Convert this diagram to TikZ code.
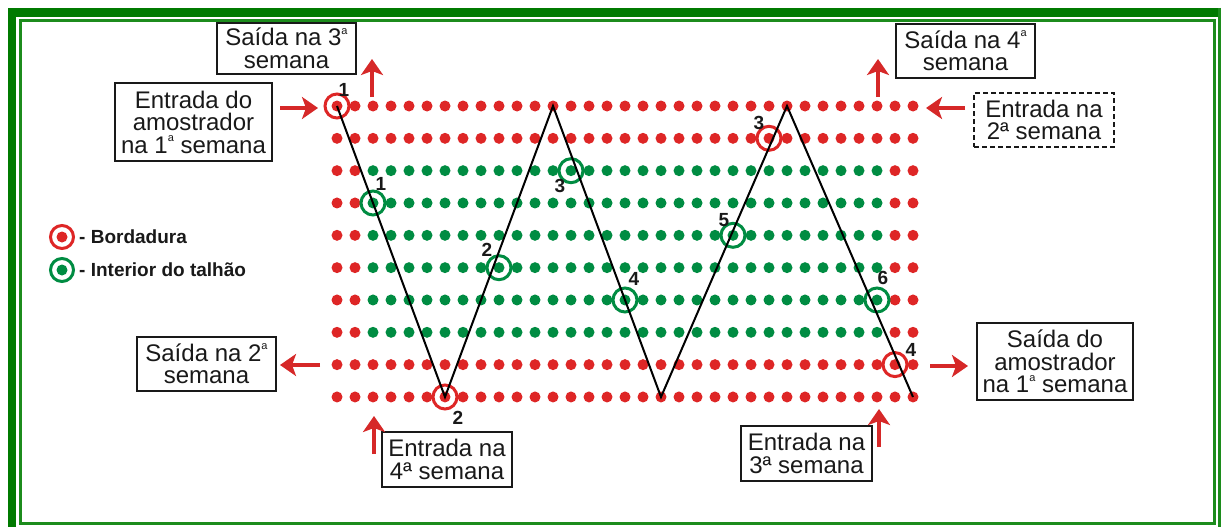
\documentclass[tikz,border=0pt]{standalone}
\usepackage{fontspec}
\setmainfont{Liberation Sans}
\usetikzlibrary{arrows.meta}
\definecolor{dotred}{RGB}{222,38,38}
\definecolor{dotgreen}{RGB}{0,140,66}
\definecolor{framegreen}{RGB}{0,122,0}
\definecolor{linegreen}{RGB}{28,140,28}
\definecolor{arrowred}{RGB}{214,40,40}
\definecolor{textdark}{RGB}{25,25,25}
\newcommand{\supa}{\raisebox{0.48em}{\fontsize{11}{11}\selectfont a}}
\begin{document}
\begin{tikzpicture}[x=1pt,y=-1pt,
  box/.style={draw=textdark, line width=1.8pt, fill=white, align=center, inner sep=0pt,
    font=\fontsize{24}{22.5}\selectfont, text=textdark},
  dbox/.style={box, dash pattern=on 5pt off 3pt},
  ring/.style={circle, draw=#1, line width=3pt, minimum size=24pt, inner sep=0pt},
  num/.style={font=\bfseries\fontsize{19}{19}\selectfont, text=textdark, inner sep=0pt},
  legtext/.style={font=\bfseries\fontsize{19}{19}\selectfont, text=textdark, inner sep=0pt, anchor=west},
  pointer/.style={draw=arrowred, line width=3.5pt, -{Stealth[length=16pt,width=22pt,inset=4pt]}},
  zig/.style={draw=black, line width=2pt, line join=miter},
]
\useasboundingbox (0,0) rectangle (1221,527);
% frame
\fill[white] (0,0) rectangle (1221,527);
\draw[framegreen, line width=8.5pt] (12,540) -- (12,12.5) -- (1219,12.5);
\draw[linegreen, line width=3pt] (1219.5,8) -- (1219.5,530);
\draw[linegreen, line width=2.8pt] (20.5,20.5) rectangle (1214.5,523.5);

% dots
\foreach \r in {0,...,9}{
  \foreach \c in {0,...,32}{
    \def\dc{dotred}
    \ifnum\r>1 \ifnum\r<8 \ifnum\c>1 \ifnum\c<31 \def\dc{dotgreen}\fi\fi\fi\fi
    \fill[\dc] ({337+18*\c},{106+32.33*\r}) circle[radius=5.5pt];
  }
}

% rings
\node[ring=dotred]   (r1) at (337,106) {};
\node[ring=dotgreen] (g1) at (373,203) {};
\node[ring=dotred]   (r2) at (445,397) {};
\node[ring=dotgreen] (g2) at (499,267.7) {};
\node[ring=dotgreen] (g3) at (571,170.7) {};
\node[ring=dotgreen] (g4) at (625,300) {};
\node[ring=dotred]   (r3) at (769,138.3) {};
\node[ring=dotgreen] (g5) at (733,235.3) {};
\node[ring=dotgreen] (g6) at (877,300) {};
\node[ring=dotred]   (r4) at (895,364.6) {};

% ring numbers
\node[num] (nr1) at (344,90) {1};
\node[num] (ng1) at (381,184) {1};
\node[num] (nr2) at (458,418) {2};
\node[num] (ng2) at (487,250) {2};
\node[num] (ng3) at (560,186) {3};
\node[num] (ng4) at (634,279) {4};
\node[num] (nr3) at (759,123) {3};
\node[num] (ng5) at (724,220) {5};
\node[num] (ng6) at (883,278) {6};
\node[num] (nr4) at (911,350) {4};

% zigzag path
\coordinate (z0) at (337,106);
\coordinate (z1) at (445,397);
\coordinate (z2) at (553,106);
\coordinate (z3) at (661,397);
\coordinate (z4) at (787,106);
\coordinate (z5) at (913,397);
\draw[zig] (z0) -- (z1) -- (z2) -- (z3) -- (z4) -- (z5);

% boxes
\node[box, minimum width=139pt, minimum height=51pt] (b1) at (286.5,48.5) {Saída na 3\supa\\semana};
\node[box, minimum width=157pt, minimum height=78pt] (b2) at (193.5,122) {Entrada do\\amostrador\\na 1\supa\ semana};
\node[box, minimum width=139pt, minimum height=54pt] (b3) at (965.5,51) {Saída na 4\supa\\semana};
\node[dbox, minimum width=140pt, minimum height=54pt] (b4) at (1044,120) {Entrada na\\2ª semana};
\node[box, minimum width=139pt, minimum height=54pt] (b5) at (206.5,364) {Saída na 2\supa\\semana};
\node[box, minimum width=130pt, minimum height=55pt] (b6) at (447,459.5) {Entrada na\\4ª semana};
\node[box, minimum width=131pt, minimum height=55pt] (b7) at (806.5,453.5) {Entrada na\\3ª semana};
\node[box, minimum width=156pt, minimum height=77pt] (b8) at (1055,361.5) {Saída do\\amostrador\\na 1\supa\ semana};

% arrows
\coordinate (a1t) at (280,108);  \coordinate (a1h) at (318,108);
\coordinate (a2t) at (372,97);   \coordinate (a2h) at (372,59);
\coordinate (a3t) at (878,97);   \coordinate (a3h) at (878,59);
\coordinate (a4t) at (965,108);  \coordinate (a4h) at (926,108);
\coordinate (a5t) at (320,365);  \coordinate (a5h) at (280,365);
\coordinate (a6t) at (930,366);  \coordinate (a6h) at (968,366);
\coordinate (a7t) at (374,454);  \coordinate (a7h) at (374,416);
\coordinate (a8t) at (879,447);  \coordinate (a8h) at (879,409);
\foreach \i in {1,...,8} \draw[pointer] (a\i t) -- (a\i h);

% legend
\node[ring=dotred, minimum size=23pt] (lr) at (62,237) {};
\fill[dotred] (lr.center) circle[radius=5.5pt];
\node[legtext] (lrt) at (79,237) {- Bordadura};
\node[ring=dotgreen, minimum size=23pt] (lg) at (62,270) {};
\fill[dotgreen] (lg.center) circle[radius=5.5pt];
\node[legtext] (lgt) at (79,270) {- Interior do talhão};
\end{tikzpicture}
\end{document}
